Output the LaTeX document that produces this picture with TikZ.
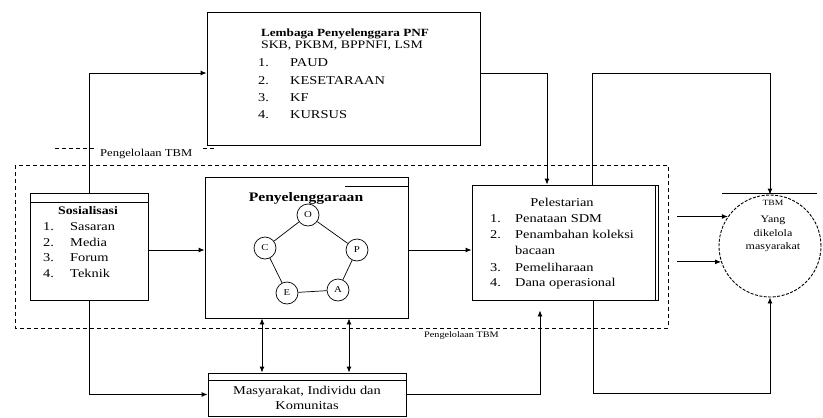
\documentclass[tikz,border=0pt]{standalone}
\usepackage{fontspec}
\setmainfont{Liberation Serif}[FakeStretch=1.2]
\usetikzlibrary{arrows.meta,calc}
\begin{document}
\begin{tikzpicture}[x=1pt,y=-1pt,
  box/.style={draw, line width=0.9pt, inner sep=0pt},
  arr/.style={line width=0.9pt, -{Latex[length=6pt,width=5pt]}},
  darr/.style={line width=0.9pt, {Latex[length=6pt,width=5pt]}-{Latex[length=6pt,width=5pt]}},
  ln/.style={line width=0.9pt},
  dashline/.style={dashed, dash pattern=on 4pt off 3pt, line width=0.8pt},
  txt/.style={inner sep=0pt, font=\fontsize{12}{14}\selectfont},
  lbl/.style={circle, draw, line width=0.7pt, minimum size=22pt, inner sep=0pt, font=\fontsize{9}{10}\selectfont}
]
\useasboundingbox (0,0) rectangle (823,418);
% helper coordinates
\coordinate (y73) at (0,73);
\coordinate (x547) at (547,0);
\coordinate (x592) at (592,0);
\coordinate (y250) at (0,250);
\coordinate (x262) at (262,0);
\coordinate (x349) at (349,0);
\coordinate (x540) at (540,0);
\coordinate (x593) at (593,0);
\coordinate (y393) at (0,393);
\coordinate (x677) at (677,0);

% dashed frame
\draw[dashline] (15,165) rectangle (668,328);
\draw[dashline] (55,148) -- (97,148);
\draw[dashline] (203,148) -- (215,148);

% boxes
\node[box, fill=white, minimum width=273pt, minimum height=133pt] (lem) at (343.5,78.5) {};
\node[box, fill=white, minimum width=118pt, minimum height=107pt] (sos) at (89,246.5) {};
\node[box, fill=white, minimum width=203pt, minimum height=141pt] (pen) at (306.5,247.5) {};
\node[box, fill=white, minimum width=186pt, minimum height=115pt] (pel) at (565,242.5) {};
\node[draw, dashed, dash pattern=on 3pt off 1.5pt, circle, line width=0.9pt, minimum size=102pt, inner sep=0pt] (tbm) at (770,246) {};
\node[box, fill=white, minimum width=198pt, minimum height=43pt] (mas) at (307,394.5) {};

% extra double lines
\draw[ln, line width=0.6pt] (30,202) -- (148,202);
\draw[ln, line width=0.6pt] (208,380) -- (406,380);
\draw[ln, line width=0.6pt] (345,186) -- (408,186);
\draw[ln, line width=0.6pt] (655,185) -- (655,300);
\draw[ln, line width=0.6pt] (722,193) -- (817,193);

% Lembaga text
\node[txt, font=\bfseries\fontsize{11}{13}\selectfont, anchor=base] (lemt) at (345,36) {Lembaga Penyelenggara PNF};
\node[txt, font=\fontsize{11.5}{13}\selectfont, anchor=base] (lems) at (342,48) {SKB, PKBM, BPPNFI, LSM};
\foreach \i/\t/\b in {1/PAUD/66,2/KESETARAAN/84,3/KF/101,4/KURSUS/118}{
  \node[txt, anchor=base west] (lemn\i) at (258,\b) {\i.};
  \node[txt, anchor=base west] (lemi\i) at (290,\b) {\t};
}

% Sosialisasi text
\node[txt, font=\bfseries\fontsize{11.5}{13}\selectfont, anchor=base] (sost) at (88,214) {Sosialisasi};
\foreach \i/\t/\b in {1/Sasaran/230,2/Media/246,3/Forum/261,4/Teknik/277}{
  \node[txt, anchor=base west] (sosn\i) at (43,\b) {\i.};
  \node[txt, anchor=base west] (sosi\i) at (70,\b) {\t};
}

% Penyelenggaraan
\node[txt, font=\bfseries\fontsize{13}{15}\selectfont, anchor=base] (pent) at (306,201) {Penyelenggaraan};
\node[lbl] (cO) at (308,215) {O};
\node[lbl] (cP) at (357,250) {P};
\node[lbl] (cA) at (338,290) {A};
\node[lbl] (cE) at (287,293) {E};
\node[lbl] (cC) at (265,248) {C};
\draw[line width=0.7pt] (cO) -- (cP) -- (cA) -- (cE) -- (cC) -- (cO);

% Pelestarian text
\node[txt, anchor=base] (pelt) at (562,206) {Pelestarian};
\foreach \i/\t/\b in {1/Penataan SDM/222,2/Penambahan koleksi/238,3/Pemeliharaan/271,4/Dana operasional/286}{
  \node[txt, anchor=base west] (peln\i) at (490,\b) {\i.};
  \node[txt, anchor=base west] (peli\i) at (515,\b) {\t};
}
\node[txt, anchor=base west] (pelb) at (515,254) {bacaan};

% TBM circle text
\node[txt, font=\fontsize{8}{9}\selectfont, anchor=base] (tbm1) at (773,205) {TBM};
\node[txt, font=\fontsize{10}{11}\selectfont, anchor=base] (tbm2) at (773,222) {Yang};
\node[txt, font=\fontsize{10}{11}\selectfont, anchor=base] (tbm3) at (773,236) {dikelola};
\node[txt, font=\fontsize{10}{11}\selectfont, anchor=base] (tbm4) at (773,249) {masyarakat};

% Masyarakat text
\node[txt, anchor=base] (mas1) at (307,394) {Masyarakat, Individu dan};
\node[txt, anchor=base] (mas2) at (307,409) {Komunitas};

% labels
\node[txt, font=\fontsize{10.5}{12}\selectfont, anchor=base west] (peng1) at (100,156) {Pengelolaan TBM};
\node[txt, font=\fontsize{8.5}{10}\selectfont, anchor=base west] (peng2) at (424,337) {Pengelolaan TBM};

% connectors
\draw[arr] (sos.north) |- (lem.west |- y73);
\draw[arr] (lem.east |- y73) -| (x547 |- pel.north);
\draw[arr] (x592 |- pel.north) |- (tbm.north |- y73) -- (tbm.north);
\draw[arr] (sos.east |- y250) -- (pen.west |- y250);
\draw[arr] (pen.east |- y250) -- (pel.west |- y250);
\draw[arr] (x677 |- tbm.145) -- (tbm.145);
\draw[arr] (x677 |- tbm.198) -- (tbm.198);
\draw[arr] (sos.south) |- (mas.west);
\draw[darr] (x262 |- pen.south) -- (x262 |- mas.north);
\draw[darr] (x349 |- pen.south) -- (x349 |- mas.north);
\draw[arr, shorten >=10pt] (mas.east) -| (x540 |- pel.south);
\draw[arr] (x593 |- pel.south) |- (tbm.south |- y393) -- (tbm.south);
\end{tikzpicture}
\end{document}
